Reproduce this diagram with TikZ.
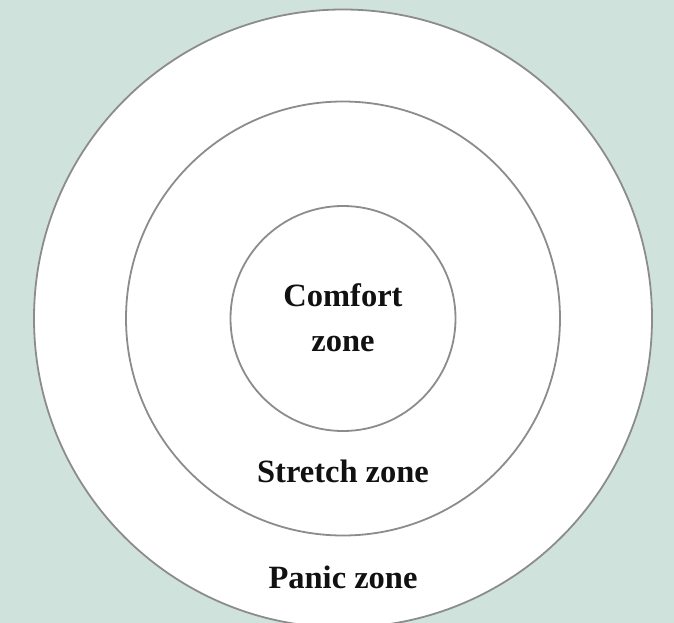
\documentclass[tikz,border=0pt]{standalone}
\usepackage{fontspec}
\setmainfont{Liberation Serif}
\definecolor{bgcol}{RGB}{208,226,220}
\definecolor{ringcol}{RGB}{140,140,140}
\definecolor{txtcol}{RGB}{17,17,17}
\tikzset{
  ring/.style={circle, draw=ringcol, line width=1.8pt, fill=white, inner sep=0pt},
  zonelabel/.style={anchor=base, inner sep=0pt, text=txtcol, font=\fontsize{32.5}{45}\selectfont\bfseries}
}
\begin{document}
\begin{tikzpicture}[x=1pt,y=-1pt]
  \useasboundingbox (0,0) rectangle (674,623);
  \fill[bgcol] (0,0) rectangle (674,623);
  \clip (0,0) rectangle (674,623);
  \node[ring, minimum size=618pt] (outer) at (343,318.5) {};
  \node[ring, minimum size=434pt] (middle) at (343,318.5) {};
  \node[ring, minimum size=225pt] (inner) at (343,318.5) {};
  \node[zonelabel] (comfort1) at (343,306.7) {Comfort};
  \node[zonelabel] (comfort2) at (343,351.7) {zone};
  \node[zonelabel] (stretch) at (343,482.7) {Stretch zone};
  \node[zonelabel] (panic) at (343,588) {Panic zone};
\end{tikzpicture}
\end{document}
